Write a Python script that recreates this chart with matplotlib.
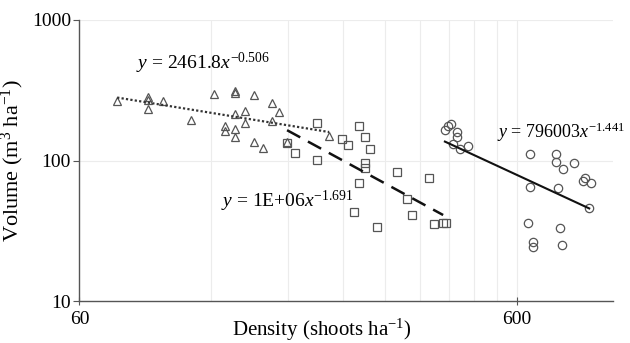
import numpy as np
import matplotlib
matplotlib.use("Agg")
import matplotlib.pyplot as plt

plt.rcParams['font.family'] = ['Liberation Serif', 'DejaVu Serif']
plt.rcParams['mathtext.fontset'] = 'custom'
plt.rcParams['mathtext.rm'] = 'Liberation Serif'
plt.rcParams['mathtext.it'] = 'Liberation Serif:italic'

# Group 1 (triangles)
tri_x = [73.2, 86.2, 86.2, 86.2, 93.2, 107.7, 122, 136, 136, 150.5, 165, 171.7,
         136, 143.3, 165, 143.3, 129, 129, 136, 136, 150.5, 157.9, 179, 223.4]
tri_y = [266, 285, 270, 231, 265, 194, 296, 312, 302, 292, 258, 222,
         214, 226, 191, 184, 177, 162, 167, 148, 136, 123, 135, 149]

# Group 2 (squares)
sq_x = [179, 186.5, 209.8, 209.8, 238.5, 247, 261.7, 269.7, 276.8, 269.7, 269.7,
        261.7, 254.5, 286.7, 319.4, 378, 337, 344.7, 388, 406.4, 412.8]
sq_y = [134, 112.5, 186, 100.8, 141.5, 130, 176, 148, 120, 96, 88.4,
        69.5, 42.8, 33.8, 83.1, 75.4, 53.2, 40.9, 35.2, 35.7, 35.7]

# Group 3 (circles)
ci_x = [410.8, 417, 425, 436.8, 436.8, 429.5, 444.5, 463.6, 642.6, 642.6, 636,
        651.8, 652.8, 736.7, 736.7, 764.6, 809.9, 743.4, 752.6, 760, 858, 850.6,
        888, 876.6]
ci_y = [163.5, 176, 182, 159.6, 147, 130.4, 120, 126.8, 110.7, 65.1, 35.7,
        26.5, 24.3, 110.7, 98, 87, 95.5, 64, 32.9, 25.2, 74.7, 71.5, 68.8, 45.7]

# Power-law trend lines: coefficient, exponent, x-range
fit1 = dict(a=2461.8, b=-0.506, x0=73.2, x1=223.4)
fit2 = dict(a=1.06e6, b=-1.691, x0=179, x1=407)
fit3 = dict(a=796003, b=-1.441, x0=410.8, x1=878)

fig = plt.figure(figsize=(6.30, 3.43), dpi=100)
ax = fig.add_axes([0.126, 0.122, 0.847, 0.820])
ax.set_xscale('log')
ax.set_yscale('log')
ax.set_xlim(60, 995)
ax.set_ylim(10, 1000)

# faint grid
for gx in np.arange(120, 600, 60):
    ax.axvline(gx, color='#ececec', lw=0.8, zorder=0)
ax.axvline(600, color='#ececec', lw=0.8, zorder=0)
for gy in [100, 1000]:
    ax.axhline(gy, color='#ececec', lw=0.8, zorder=0)

ms = 6
ax.plot(tri_x, tri_y, linestyle='none', marker='^', ms=ms, mfc='none',
        mec='#555555', mew=0.9, zorder=3)
ax.plot(sq_x, sq_y, linestyle='none', marker='s', ms=ms, mfc='none',
        mec='#555555', mew=0.9, zorder=3)
ax.plot(ci_x, ci_y, linestyle='none', marker='o', ms=ms, mfc='none',
        mec='#555555', mew=0.9, zorder=3)

def draw_fit(f, **kw):
    xs = np.geomspace(f['x0'], f['x1'], 50)
    ax.plot(xs, f['a'] * xs ** f['b'], **kw)

draw_fit(fit1, color='#333333', lw=1.6, linestyle=(0, (1, 1)), zorder=4)
draw_fit(fit2, color='#111111', lw=1.8, linestyle=(0, (6, 3.5)), zorder=4)
draw_fit(fit3, color='#111111', lw=1.5, linestyle='-', zorder=4)

ax.text(0.107, 0.845, r'$\mathit{y}$ = 2461.8$\mathit{x}^{-0.506}$',
        transform=ax.transAxes, fontsize=14, ha='left', va='center')
ax.text(0.266, 0.355, r'$\mathit{y}$ = 1E+06$\mathit{x}^{-1.691}$',
        transform=ax.transAxes, fontsize=14, ha='left', va='center')
ax.text(0.783, 0.6, r'$\mathit{y}$ = 796003$\mathit{x}^{-1.441}$',
        transform=ax.transAxes, fontsize=13, ha='left', va='center')

for s in ['top', 'right']:
    ax.spines[s].set_visible(False)
for s in ['left', 'bottom']:
    ax.spines[s].set_color('#555555')
    ax.spines[s].set_linewidth(1.0)

ax.set_xticks([60, 600])
ax.set_xticklabels(['60', '600'])
ax.xaxis.set_minor_locator(matplotlib.ticker.NullLocator())
ax.set_yticks([10, 100, 1000])
ax.set_yticklabels(['10', '100', '1000'])
ax.yaxis.set_minor_locator(matplotlib.ticker.NullLocator())
ax.tick_params(axis='x', direction='inout', length=6, color='#555555', labelsize=14, pad=4)
ax.tick_params(axis='y', direction='out', length=4, color='#555555', labelsize=14, pad=2)

ax.set_xlabel('Density (shoots ha$^{-1}$)', fontsize=15, va='center')
ax.xaxis.set_label_coords(0.4545, -0.103)
ax.set_ylabel('Volume (m$^{3}$ ha$^{-1}$)', fontsize=16, labelpad=4)

fig.savefig('out.png', dpi=100)
